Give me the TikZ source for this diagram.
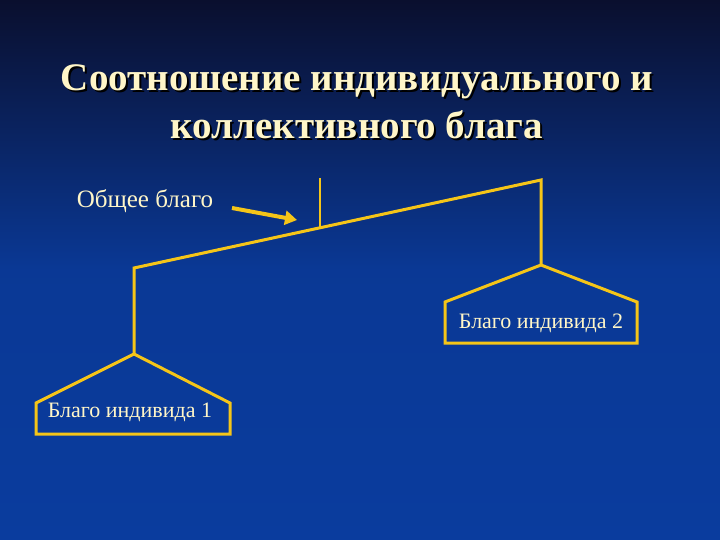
\documentclass[tikz,border=0pt]{standalone}
\usepackage{fontspec}
\usetikzlibrary{arrows.meta}
\setmainfont{Liberation Serif}
\definecolor{bgtop}{HTML}{0A0F2E}
\definecolor{bgbot}{HTML}{0A3C9E}
\definecolor{ln}{HTML}{F5C518}
\definecolor{tx}{HTML}{FFF6C8}
\begin{document}
\begin{tikzpicture}[x=1pt,y=-1pt,
  ybeam/.style={draw=ln,line width=3pt,line join=miter},
  lbl/.style={text=tx,font=\fontsize{22}{26}\selectfont,inner sep=0pt}]
\shade[top color=bgtop,bottom color=bgbot,middle color=bgbot!92!bgtop] (0,0) rectangle (720,540);
\useasboundingbox (0,0) rectangle (720,540);
% title
\foreach \dx/\c in {2/black,0/tx}{
\node[text=\c,font=\bfseries\fontsize{39}{48}\selectfont,align=center] (t\dx) at (357+\dx,102+\dx)
 {Соотношение индивидуального и\\коллективного блага};}
% beam and supports
\coordinate (bl) at (134,268);
\coordinate (br) at (541,180);
\coordinate (a1) at (134,354);
\coordinate (a2) at (541,265);
\coordinate (ptop) at (320,178);
\coordinate (pbot) at (320,228);
\draw[ybeam] (a1) -- (bl) -- (br) -- (a2);
\draw[draw=ln,line width=2pt] (ptop) -- (pbot);
% pentagons
\draw[ybeam] (a1) -- (36,403) -- (36,434) -- (230,434) -- (230,403) -- cycle;
\draw[ybeam] (a2) -- (445,302) -- (445,343) -- (637,343) -- (637,302) -- cycle;
\node[lbl] (n1) at (130,412) {Благо индивида 1};
\node[lbl] (n2) at (541,323) {Благо индивида 2};
\node[lbl,font=\fontsize{25}{28}\selectfont] (og) at (145,201) {Общее благо};
\coordinate (ae) at (297,220);
\draw[draw=ln,line width=4pt,-{Triangle[length=12pt,width=14pt]}] (232,208) -- (ae);
\end{tikzpicture}
\end{document}
